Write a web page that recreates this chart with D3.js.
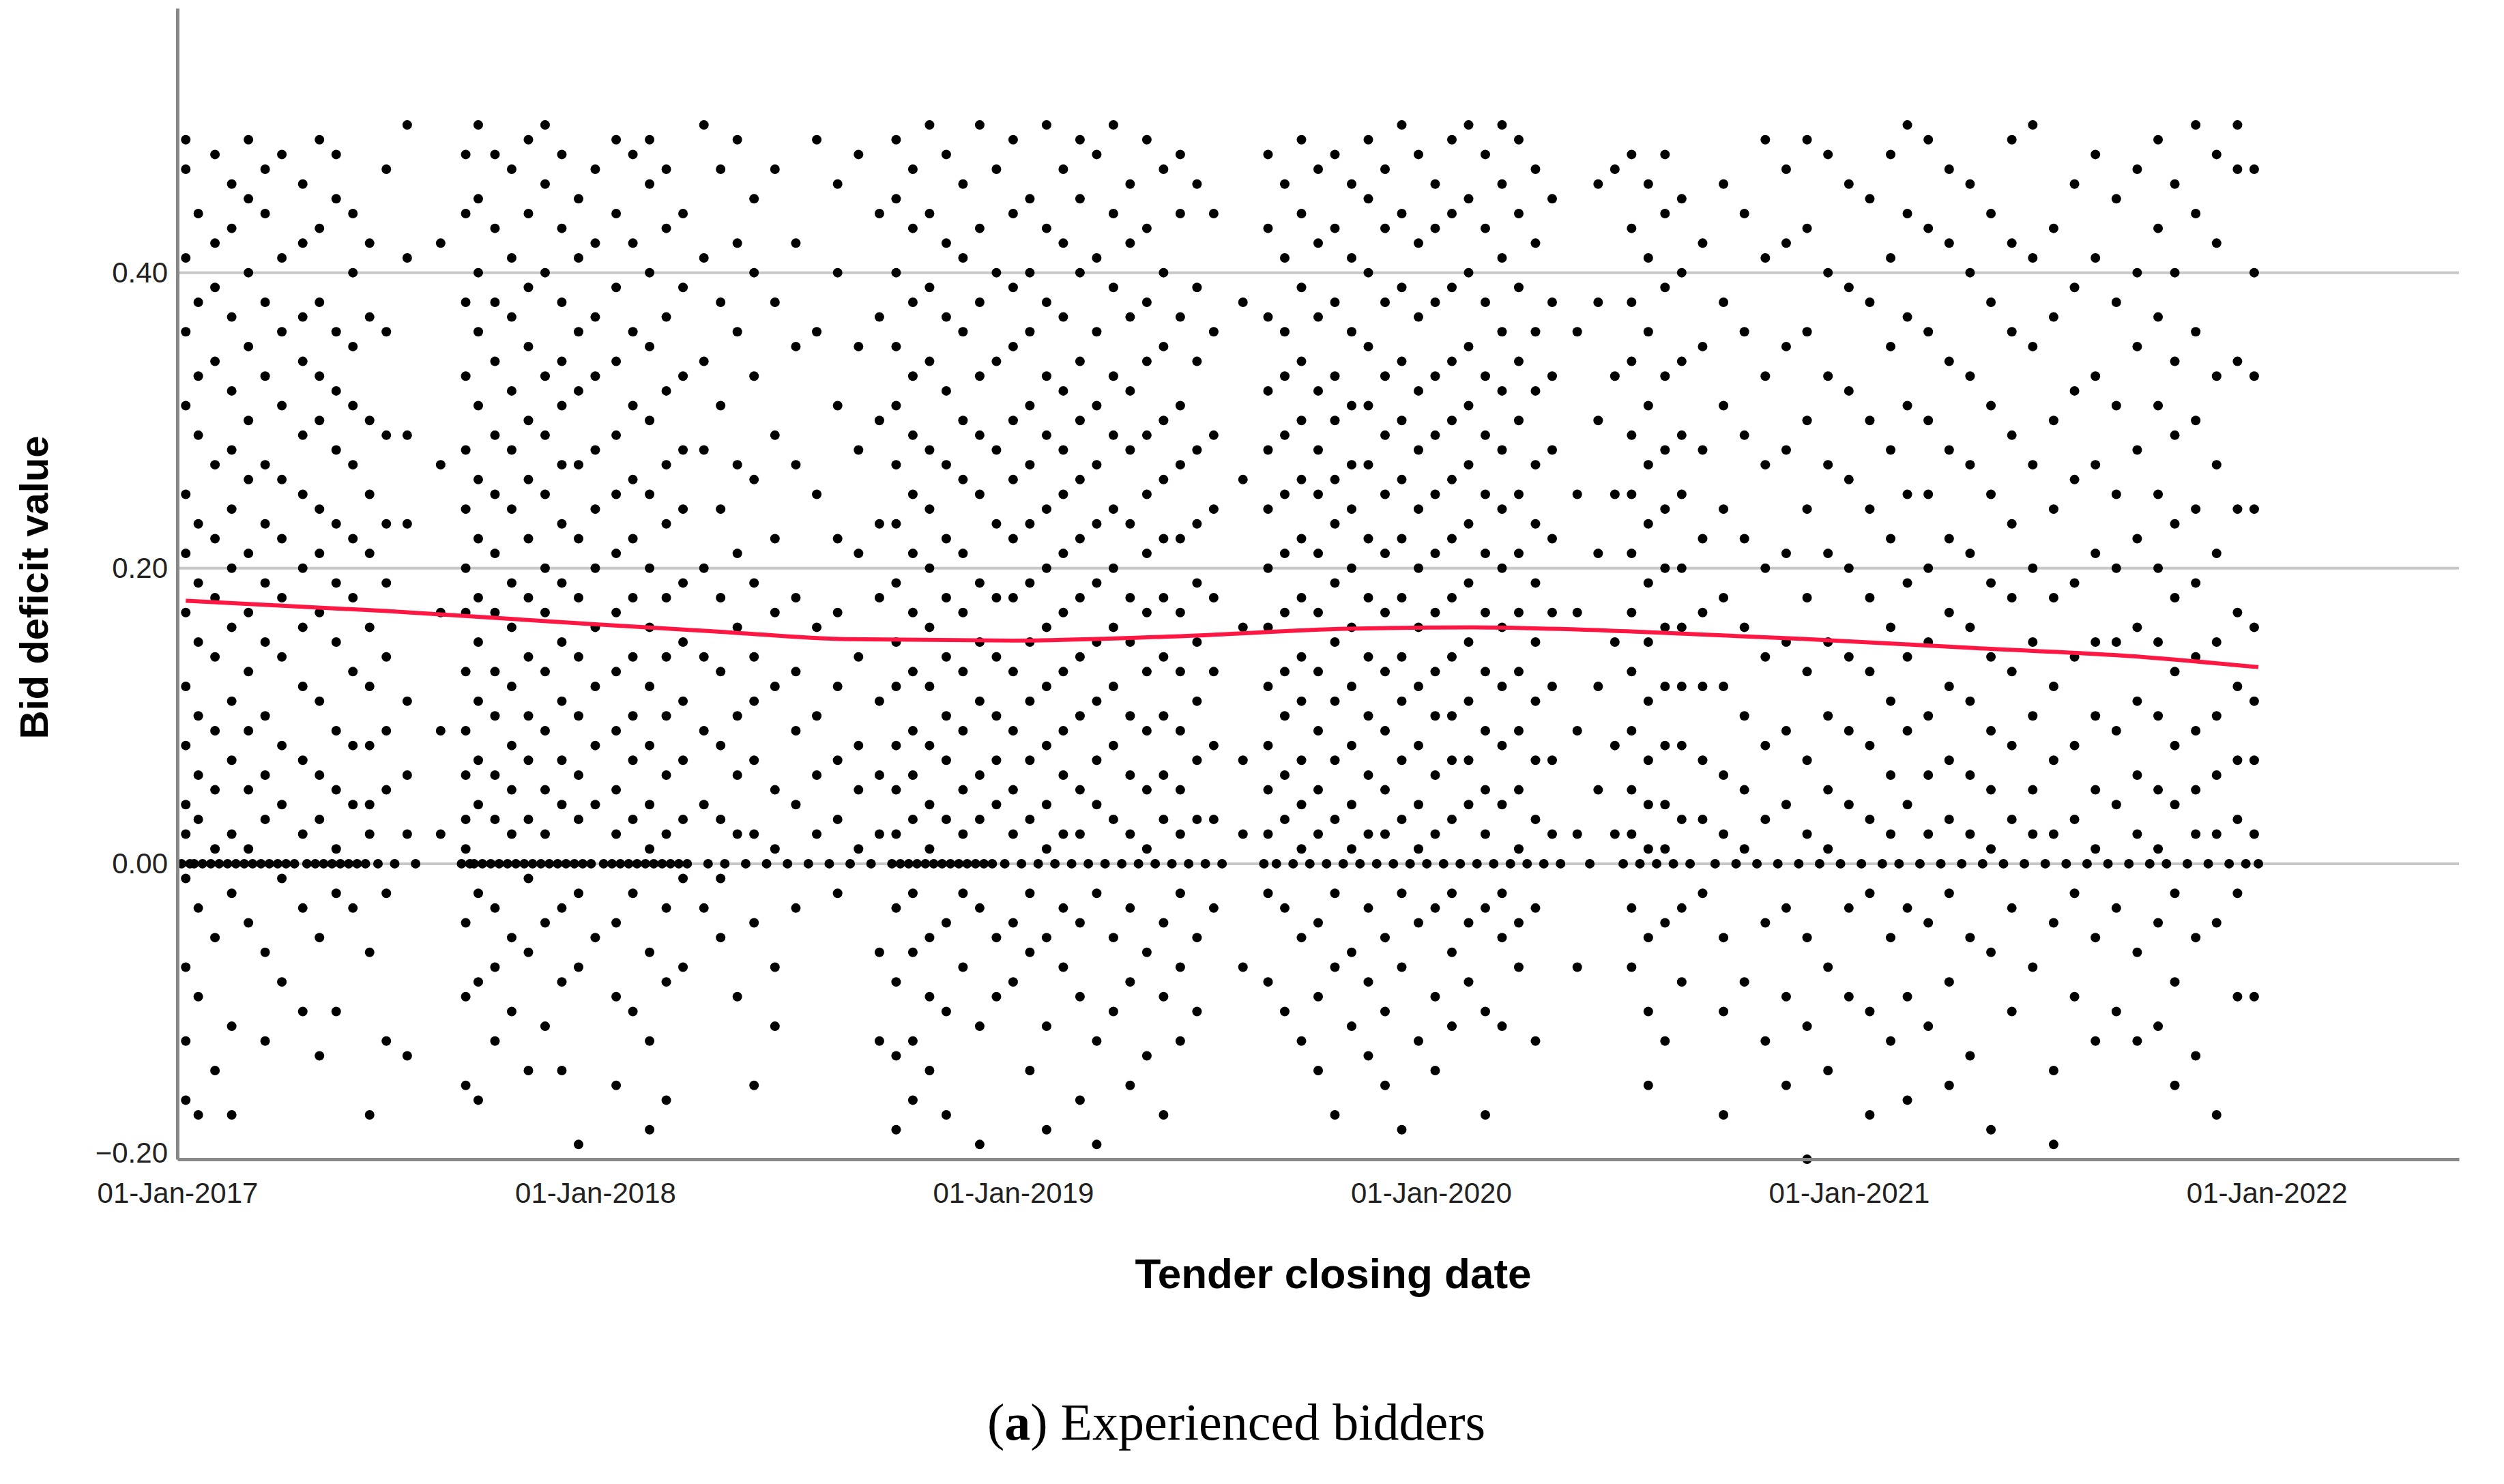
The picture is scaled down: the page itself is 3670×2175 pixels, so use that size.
<!DOCTYPE html>
<html>
<head>
<meta charset="utf-8">
<script src="https://d3js.org/d3.v7.min.js"></script>
<style>
  body { margin: 0; background: #fff; }
  text { font-family: "Liberation Sans", Arial, sans-serif; }
</style>
</head>
<body>
<script>
const width = 3670;
const height = 2175;
const margin = {left: 260, right: 66, top: 12, bottom: 476};

// tick values / labels
const yTicks = [-0.2, 0, 0.2, 0.4];
const yGrid = [0, 0.2, 0.4];
const xTicks = [2017, 2018, 2019, 2020, 2021, 2022];
const xTickLabels = ['01-Jan-2017', '01-Jan-2018', '01-Jan-2019', '01-Jan-2020', '01-Jan-2021', '01-Jan-2022'];

// scatter, one column per closing date (fractional year): [date, [bid deficit values]]
const bidColumns = [
  [2017.02, [0.49, 0.47, 0.41, 0.36, 0.31, 0.25, 0.21, 0.17, 0.12, 0.08, 0.04, 0.02, -0.01, -0.07, -0.12, -0.16]],
  [2017.05, [0.44, 0.38, 0.33, 0.29, 0.23, 0.19, 0.15, 0.10, 0.06, 0.03, -0.03, -0.09, -0.17]],
  [2017.09, [0.48, 0.42, 0.39, 0.34, 0.27, 0.22, 0.18, 0.14, 0.09, 0.05, 0.01, -0.05, -0.14]],
  [2017.13, [0.46, 0.43, 0.37, 0.32, 0.28, 0.24, 0.20, 0.16, 0.11, 0.07, 0.02, -0.02, -0.11, -0.17]],
  [2017.17, [0.49, 0.45, 0.40, 0.35, 0.30, 0.26, 0.21, 0.17, 0.13, 0.09, 0.05, 0.01, -0.04]],
  [2017.21, [0.47, 0.44, 0.38, 0.33, 0.27, 0.23, 0.19, 0.15, 0.10, 0.06, 0.03, -0.06, -0.12]],
  [2017.25, [0.48, 0.41, 0.36, 0.31, 0.26, 0.22, 0.18, 0.14, 0.08, 0.04, -0.01, -0.08]],
  [2017.30, [0.46, 0.42, 0.37, 0.34, 0.29, 0.25, 0.20, 0.16, 0.12, 0.07, 0.02, -0.03, -0.10]],
  [2017.34, [0.49, 0.43, 0.38, 0.33, 0.30, 0.24, 0.21, 0.17, 0.11, 0.06, 0.03, -0.05, -0.13]],
  [2017.38, [0.48, 0.45, 0.36, 0.32, 0.28, 0.23, 0.19, 0.15, 0.09, 0.05, 0.01, -0.02, -0.10]],
  [2017.42, [0.44, 0.40, 0.35, 0.31, 0.27, 0.22, 0.18, 0.13, 0.08, 0.04, -0.03]],
  [2017.46, [0.42, 0.37, 0.30, 0.25, 0.21, 0.16, 0.12, 0.08, 0.04, 0.02, -0.06, -0.17]],
  [2017.50, [0.47, 0.36, 0.29, 0.23, 0.19, 0.14, 0.09, 0.05, -0.02, -0.12]],
  [2017.55, [0.50, 0.41, 0.29, 0.23, 0.11, 0.06, 0.02, -0.13]],
  [2017.63, [0.42, 0.27, 0.17, 0.09, 0.02]],
  [2017.69, [0.48, 0.44, 0.38, 0.33, 0.28, 0.24, 0.20, 0.17, 0.13, 0.09, 0.06, 0.03, 0.01, -0.04, -0.09, -0.15]],
  [2017.72, [0.50, 0.45, 0.40, 0.36, 0.31, 0.26, 0.22, 0.18, 0.15, 0.11, 0.07, 0.04, -0.02, -0.08, -0.16]],
  [2017.76, [0.48, 0.43, 0.38, 0.34, 0.29, 0.25, 0.21, 0.17, 0.13, 0.10, 0.06, 0.03, -0.03, -0.07, -0.12]],
  [2017.80, [0.47, 0.41, 0.37, 0.32, 0.28, 0.24, 0.19, 0.16, 0.12, 0.08, 0.05, 0.02, -0.05, -0.10]],
  [2017.84, [0.49, 0.44, 0.39, 0.35, 0.30, 0.26, 0.22, 0.18, 0.14, 0.10, 0.07, 0.03, -0.01, -0.06, -0.14]],
  [2017.88, [0.50, 0.46, 0.40, 0.33, 0.29, 0.25, 0.20, 0.17, 0.13, 0.09, 0.05, 0.02, -0.04, -0.11]],
  [2017.92, [0.48, 0.43, 0.38, 0.34, 0.31, 0.27, 0.23, 0.19, 0.15, 0.11, 0.07, 0.04, -0.03, -0.08, -0.14]],
  [2017.96, [0.45, 0.41, 0.36, 0.32, 0.27, 0.22, 0.18, 0.14, 0.10, 0.06, 0.03, -0.02, -0.07, -0.19]],
  [2018.00, [0.47, 0.42, 0.37, 0.33, 0.28, 0.24, 0.20, 0.16, 0.12, 0.08, 0.04, -0.05]],
  [2018.05, [0.49, 0.44, 0.39, 0.34, 0.29, 0.25, 0.21, 0.17, 0.13, 0.09, 0.05, 0.02, -0.04, -0.09, -0.15]],
  [2018.09, [0.48, 0.42, 0.36, 0.31, 0.26, 0.22, 0.18, 0.14, 0.10, 0.07, 0.03, -0.02, -0.10]],
  [2018.13, [0.49, 0.46, 0.40, 0.35, 0.30, 0.25, 0.20, 0.16, 0.12, 0.08, 0.04, 0.01, -0.06, -0.12, -0.18]],
  [2018.17, [0.47, 0.43, 0.37, 0.32, 0.27, 0.23, 0.18, 0.14, 0.10, 0.06, 0.02, -0.03, -0.08, -0.16]],
  [2018.21, [0.44, 0.39, 0.33, 0.28, 0.24, 0.19, 0.15, 0.11, 0.07, 0.03, -0.01, -0.07]],
  [2018.26, [0.50, 0.41, 0.34, 0.28, 0.20, 0.14, 0.09, 0.04, -0.03]],
  [2018.30, [0.47, 0.38, 0.31, 0.24, 0.18, 0.13, 0.08, 0.03, -0.01, -0.05]],
  [2018.34, [0.49, 0.42, 0.36, 0.27, 0.21, 0.16, 0.10, 0.06, 0.02, -0.09]],
  [2018.38, [0.45, 0.40, 0.33, 0.26, 0.19, 0.14, 0.11, 0.07, 0.02, -0.04, -0.15]],
  [2018.43, [0.47, 0.38, 0.29, 0.22, 0.17, 0.12, 0.05, 0.01, -0.07, -0.11]],
  [2018.48, [0.42, 0.35, 0.27, 0.18, 0.13, 0.09, 0.04, -0.03]],
  [2018.53, [0.49, 0.36, 0.25, 0.16, 0.10, 0.06, 0.02]],
  [2018.58, [0.46, 0.40, 0.31, 0.22, 0.17, 0.12, 0.07, 0.03, -0.02]],
  [2018.63, [0.48, 0.35, 0.28, 0.21, 0.14, 0.08, 0.05, 0.01]],
  [2018.68, [0.44, 0.37, 0.30, 0.23, 0.18, 0.11, 0.06, 0.02, -0.06, -0.12]],
  [2018.72, [0.49, 0.45, 0.40, 0.35, 0.31, 0.27, 0.23, 0.19, 0.15, 0.12, 0.08, 0.05, 0.02, -0.03, -0.08, -0.13, -0.18]],
  [2018.76, [0.47, 0.43, 0.38, 0.33, 0.29, 0.25, 0.21, 0.17, 0.13, 0.09, 0.06, 0.03, -0.02, -0.06, -0.12, -0.16]],
  [2018.80, [0.50, 0.44, 0.39, 0.34, 0.28, 0.24, 0.20, 0.16, 0.12, 0.08, 0.04, 0.01, -0.05, -0.09, -0.14]],
  [2018.84, [0.48, 0.42, 0.37, 0.32, 0.27, 0.22, 0.18, 0.14, 0.10, 0.07, 0.03, -0.04, -0.10, -0.17]],
  [2018.88, [0.46, 0.41, 0.36, 0.30, 0.26, 0.21, 0.17, 0.13, 0.09, 0.05, 0.02, -0.02, -0.07]],
  [2018.92, [0.50, 0.43, 0.38, 0.33, 0.29, 0.25, 0.19, 0.15, 0.11, 0.06, 0.03, -0.03, -0.11, -0.19]],
  [2018.96, [0.47, 0.40, 0.34, 0.28, 0.23, 0.18, 0.14, 0.10, 0.07, 0.04, -0.05, -0.09]],
  [2019.00, [0.49, 0.44, 0.39, 0.35, 0.30, 0.26, 0.22, 0.18, 0.13, 0.09, 0.05, 0.02, -0.04, -0.08]],
  [2019.04, [0.45, 0.40, 0.36, 0.31, 0.27, 0.23, 0.19, 0.15, 0.11, 0.07, 0.03, -0.02, -0.06, -0.14]],
  [2019.08, [0.50, 0.43, 0.38, 0.33, 0.29, 0.24, 0.20, 0.16, 0.12, 0.08, 0.04, 0.01, -0.05, -0.11, -0.18]],
  [2019.12, [0.47, 0.42, 0.37, 0.32, 0.28, 0.25, 0.21, 0.17, 0.13, 0.09, 0.06, 0.02, -0.03, -0.07]],
  [2019.16, [0.49, 0.45, 0.40, 0.34, 0.30, 0.26, 0.22, 0.18, 0.14, 0.10, 0.05, 0.02, -0.04, -0.09, -0.16]],
  [2019.20, [0.48, 0.41, 0.36, 0.31, 0.27, 0.23, 0.19, 0.15, 0.11, 0.07, 0.04, -0.02, -0.12, -0.19]],
  [2019.24, [0.50, 0.44, 0.39, 0.33, 0.29, 0.24, 0.20, 0.16, 0.12, 0.08, 0.03, -0.05, -0.10]],
  [2019.28, [0.46, 0.42, 0.37, 0.32, 0.28, 0.23, 0.18, 0.15, 0.10, 0.06, 0.02, -0.03, -0.08, -0.15]],
  [2019.32, [0.49, 0.43, 0.38, 0.34, 0.29, 0.25, 0.21, 0.17, 0.13, 0.09, 0.05, 0.01, -0.06, -0.13]],
  [2019.36, [0.47, 0.40, 0.35, 0.30, 0.26, 0.22, 0.18, 0.14, 0.10, 0.06, 0.03, -0.04, -0.09, -0.17]],
  [2019.40, [0.48, 0.44, 0.37, 0.31, 0.27, 0.22, 0.17, 0.13, 0.09, 0.05, 0.02, -0.02, -0.07, -0.12]],
  [2019.44, [0.46, 0.39, 0.34, 0.28, 0.23, 0.19, 0.15, 0.11, 0.07, 0.03, -0.05, -0.10]],
  [2019.48, [0.44, 0.36, 0.29, 0.24, 0.18, 0.13, 0.08, 0.03, -0.03]],
  [2019.55, [0.38, 0.26, 0.16, 0.07, 0.02, -0.07]],
  [2019.61, [0.48, 0.43, 0.37, 0.32, 0.28, 0.24, 0.20, 0.16, 0.12, 0.08, 0.05, 0.02, -0.02, -0.08]],
  [2019.65, [0.46, 0.41, 0.36, 0.33, 0.29, 0.25, 0.21, 0.17, 0.13, 0.10, 0.06, 0.03, -0.03, -0.10]],
  [2019.69, [0.49, 0.44, 0.39, 0.34, 0.30, 0.26, 0.22, 0.18, 0.14, 0.11, 0.07, 0.04, 0.01, -0.05, -0.12]],
  [2019.73, [0.47, 0.42, 0.37, 0.32, 0.28, 0.25, 0.21, 0.17, 0.13, 0.09, 0.05, 0.02, -0.04, -0.09, -0.14]],
  [2019.77, [0.48, 0.43, 0.38, 0.33, 0.30, 0.26, 0.23, 0.19, 0.15, 0.11, 0.07, 0.03, -0.02, -0.07, -0.17]],
  [2019.81, [0.46, 0.41, 0.36, 0.31, 0.27, 0.24, 0.20, 0.16, 0.12, 0.08, 0.04, 0.01, -0.06, -0.11]],
  [2019.85, [0.49, 0.45, 0.40, 0.35, 0.31, 0.27, 0.22, 0.18, 0.14, 0.10, 0.06, 0.02, -0.03, -0.08, -0.13]],
  [2019.89, [0.47, 0.43, 0.38, 0.33, 0.29, 0.25, 0.21, 0.17, 0.13, 0.09, 0.05, 0.02, -0.05, -0.10, -0.15]],
  [2019.93, [0.50, 0.44, 0.39, 0.34, 0.30, 0.26, 0.22, 0.18, 0.14, 0.11, 0.07, 0.03, -0.02, -0.07, -0.18]],
  [2019.97, [0.48, 0.42, 0.37, 0.32, 0.28, 0.24, 0.20, 0.16, 0.12, 0.08, 0.04, 0.01, -0.04, -0.12]],
  [2020.01, [0.46, 0.43, 0.38, 0.33, 0.29, 0.25, 0.21, 0.17, 0.13, 0.10, 0.06, 0.02, -0.03, -0.09, -0.14]],
  [2020.05, [0.49, 0.44, 0.39, 0.34, 0.30, 0.26, 0.22, 0.18, 0.14, 0.10, 0.07, 0.03, -0.02, -0.06, -0.11]],
  [2020.09, [0.50, 0.45, 0.40, 0.35, 0.31, 0.27, 0.23, 0.19, 0.15, 0.11, 0.07, 0.04, -0.04, -0.08]],
  [2020.13, [0.48, 0.43, 0.38, 0.33, 0.29, 0.25, 0.21, 0.17, 0.13, 0.09, 0.05, 0.02, -0.03, -0.10, -0.17]],
  [2020.17, [0.50, 0.46, 0.41, 0.36, 0.32, 0.28, 0.24, 0.20, 0.16, 0.12, 0.08, 0.04, -0.02, -0.05, -0.11]],
  [2020.21, [0.49, 0.44, 0.39, 0.34, 0.30, 0.25, 0.21, 0.17, 0.13, 0.09, 0.05, 0.01, -0.04, -0.07]],
  [2020.25, [0.47, 0.42, 0.36, 0.32, 0.27, 0.23, 0.19, 0.15, 0.11, 0.07, 0.03, -0.03, -0.12]],
  [2020.29, [0.45, 0.38, 0.33, 0.28, 0.22, 0.17, 0.12, 0.07, 0.02]],
  [2020.35, [0.36, 0.25, 0.17, 0.09, 0.02, -0.07]],
  [2020.40, [0.46, 0.38, 0.30, 0.21, 0.12, 0.05]],
  [2020.44, [0.47, 0.33, 0.25, 0.15, 0.08, 0.02]],
  [2020.48, [0.48, 0.43, 0.38, 0.34, 0.29, 0.25, 0.21, 0.17, 0.13, 0.09, 0.05, 0.02, -0.03, -0.07]],
  [2020.52, [0.46, 0.41, 0.36, 0.31, 0.27, 0.23, 0.19, 0.15, 0.11, 0.07, 0.04, 0.01, -0.05, -0.10, -0.15]],
  [2020.56, [0.48, 0.44, 0.39, 0.33, 0.28, 0.24, 0.20, 0.16, 0.12, 0.08, 0.04, 0.01, -0.04, -0.12]],
  [2020.60, [0.45, 0.40, 0.34, 0.29, 0.25, 0.20, 0.16, 0.12, 0.08, 0.03, -0.03, -0.08]],
  [2020.65, [0.42, 0.35, 0.28, 0.22, 0.17, 0.12, 0.07, 0.03, -0.02]],
  [2020.70, [0.46, 0.38, 0.31, 0.24, 0.18, 0.12, 0.06, 0.02, -0.05, -0.10, -0.17]],
  [2020.75, [0.44, 0.36, 0.29, 0.22, 0.16, 0.10, 0.05, 0.01, -0.08]],
  [2020.80, [0.49, 0.41, 0.33, 0.27, 0.20, 0.14, 0.08, 0.03, -0.04, -0.12]],
  [2020.85, [0.47, 0.42, 0.35, 0.28, 0.21, 0.15, 0.09, 0.04, -0.03, -0.09, -0.15]],
  [2020.90, [0.49, 0.43, 0.36, 0.30, 0.24, 0.18, 0.13, 0.07, 0.02, -0.05, -0.11, -0.20]],
  [2020.95, [0.48, 0.40, 0.33, 0.27, 0.21, 0.15, 0.10, 0.05, 0.01, -0.07, -0.14]],
  [2021.00, [0.46, 0.39, 0.32, 0.26, 0.20, 0.14, 0.09, 0.04, -0.03, -0.09]],
  [2021.05, [0.45, 0.38, 0.30, 0.24, 0.18, 0.13, 0.08, 0.03, -0.02, -0.10, -0.17]],
  [2021.10, [0.48, 0.41, 0.35, 0.28, 0.22, 0.16, 0.11, 0.06, 0.02, -0.05, -0.12]],
  [2021.14, [0.50, 0.44, 0.37, 0.31, 0.25, 0.19, 0.14, 0.09, 0.04, -0.03, -0.09, -0.16]],
  [2021.19, [0.49, 0.43, 0.36, 0.30, 0.25, 0.20, 0.15, 0.10, 0.06, 0.02, -0.04, -0.11]],
  [2021.24, [0.47, 0.42, 0.34, 0.28, 0.22, 0.17, 0.12, 0.07, 0.03, -0.02, -0.08, -0.15]],
  [2021.29, [0.46, 0.40, 0.33, 0.27, 0.21, 0.16, 0.11, 0.06, 0.02, -0.05, -0.13]],
  [2021.34, [0.44, 0.38, 0.31, 0.25, 0.19, 0.14, 0.09, 0.05, 0.01, -0.06, -0.18]],
  [2021.39, [0.49, 0.42, 0.36, 0.29, 0.23, 0.18, 0.13, 0.08, 0.03, -0.03, -0.10]],
  [2021.44, [0.50, 0.41, 0.35, 0.27, 0.20, 0.15, 0.10, 0.05, 0.02, -0.07]],
  [2021.49, [0.43, 0.37, 0.30, 0.24, 0.18, 0.12, 0.07, 0.02, -0.04, -0.14, -0.19]],
  [2021.54, [0.46, 0.39, 0.32, 0.26, 0.19, 0.14, 0.08, 0.03, -0.02, -0.09]],
  [2021.59, [0.48, 0.41, 0.33, 0.27, 0.21, 0.15, 0.10, 0.05, 0.01, -0.05, -0.12]],
  [2021.64, [0.45, 0.38, 0.31, 0.25, 0.20, 0.15, 0.09, 0.04, -0.03, -0.10]],
  [2021.69, [0.47, 0.40, 0.35, 0.28, 0.22, 0.16, 0.11, 0.06, 0.02, -0.06, -0.12]],
  [2021.74, [0.49, 0.43, 0.37, 0.31, 0.25, 0.20, 0.15, 0.10, 0.05, 0.01, -0.04, -0.11]],
  [2021.78, [0.46, 0.40, 0.34, 0.29, 0.23, 0.18, 0.13, 0.08, 0.04, -0.02, -0.08, -0.15]],
  [2021.83, [0.50, 0.44, 0.36, 0.30, 0.24, 0.19, 0.14, 0.09, 0.05, 0.02, -0.05, -0.13]],
  [2021.88, [0.48, 0.42, 0.33, 0.27, 0.21, 0.15, 0.10, 0.06, 0.02, -0.04, -0.17]],
  [2021.93, [0.50, 0.47, 0.34, 0.24, 0.17, 0.12, 0.07, 0.03, -0.02, -0.09]],
  [2021.97, [0.47, 0.40, 0.33, 0.24, 0.16, 0.11, 0.07, 0.02, -0.09]]
];

// many bids sit exactly at zero: dates of those points
const zeroDates = [
  2017.01, 2017.03, 2017.04, 2017.06, 2017.08, 2017.10, 2017.12, 2017.14, 2017.16, 2017.18, 2017.20, 2017.22,
  2017.24, 2017.26, 2017.28, 2017.31, 2017.33, 2017.35, 2017.37, 2017.39, 2017.41, 2017.43, 2017.45, 2017.48,
  2017.52, 2017.57, 2017.68, 2017.70, 2017.71, 2017.73, 2017.75, 2017.77, 2017.79, 2017.81, 2017.83, 2017.85,
  2017.87, 2017.89, 2017.91, 2017.93, 2017.95, 2017.97, 2017.99, 2018.02, 2018.04, 2018.06, 2018.08, 2018.10,
  2018.12, 2018.14, 2018.16, 2018.18, 2018.20, 2018.22, 2018.27, 2018.31, 2018.36, 2018.41, 2018.46, 2018.51,
  2018.56, 2018.61, 2018.66, 2018.71, 2018.73, 2018.75, 2018.77, 2018.79, 2018.81, 2018.83, 2018.85, 2018.87,
  2018.89, 2018.91, 2018.93, 2018.95, 2018.98, 2019.02, 2019.06, 2019.10, 2019.14, 2019.18, 2019.22, 2019.26,
  2019.30, 2019.34, 2019.38, 2019.42, 2019.46, 2019.50, 2019.60, 2019.63, 2019.67, 2019.71, 2019.75, 2019.79,
  2019.83, 2019.87, 2019.91, 2019.95, 2019.99, 2020.03, 2020.07, 2020.11, 2020.15, 2020.19, 2020.23, 2020.27,
  2020.31, 2020.38, 2020.46, 2020.50, 2020.54, 2020.58, 2020.62, 2020.68, 2020.73, 2020.78, 2020.83, 2020.88,
  2020.93, 2020.98, 2021.03, 2021.08, 2021.12, 2021.17, 2021.22, 2021.27, 2021.32, 2021.37, 2021.42, 2021.47,
  2021.52, 2021.57, 2021.62, 2021.67, 2021.72, 2021.76, 2021.81, 2021.86, 2021.91, 2021.95, 2021.98
];

// loess fit line
const fitDates = [2017.02, 2017.5, 2018.0, 2018.3, 2018.6, 2019.0, 2019.4, 2019.8, 2020.1, 2020.5, 2020.9, 2021.3, 2021.7, 2021.98];
const fitValues = [0.178, 0.171, 0.162, 0.157, 0.152, 0.151, 0.154, 0.159, 0.160, 0.157, 0.152, 0.146, 0.140, 0.133];

const svg = d3.select('body')
  .append('svg')
  .attr('width', width)
  .attr('height', height);

const plotW = width - margin.left - margin.right;
const plotH = height - margin.top - margin.bottom;

const g = svg.append('g')
  .attr('transform', `translate(${margin.left}, ${margin.top})`);

const xScale = d3.scaleLinear()
  .domain([2017, 2022.46])
  .range([0, plotW]);

const yScale = d3.scaleLinear()
  .domain([-0.2, 0.579])
  .range([plotH, 0]);

// gridlines
g.selectAll('.grid')
  .data(yGrid)
  .enter()
  .append('line')
  .attr('x1', 0)
  .attr('x2', plotW)
  .attr('y1', d => yScale(d))
  .attr('y2', d => yScale(d))
  .attr('stroke', '#c8c8c8')
  .attr('stroke-width', 4);

// points
const points = [];
bidColumns.forEach(col => {
  col[1].forEach(v => points.push([col[0], v]));
});
zeroDates.forEach(d => points.push([d, 0]));

g.selectAll('circle')
  .data(points)
  .enter()
  .append('circle')
  .attr('cx', d => xScale(d[0]))
  .attr('cy', d => yScale(d[1]))
  .attr('r', 7)
  .attr('fill', '#000');

// fit line
const line = d3.line()
  .x((d, i) => xScale(fitDates[i]))
  .y(d => yScale(d))
  .curve(d3.curveMonotoneX);

g.append('path')
  .datum(fitValues)
  .attr('d', line)
  .attr('fill', 'none')
  .attr('stroke', '#ff1744')
  .attr('stroke-width', 6);

// axes
const yAxis = d3.axisLeft(yScale)
  .tickValues(yTicks)
  .tickFormat(d3.format('.2f'))
  .tickSize(0)
  .tickPadding(14);

const yGroup = g.append('g').call(yAxis);

const xAxis = d3.axisBottom(xScale)
  .tickValues(xTicks)
  .tickFormat((d, i) => xTickLabels[i])
  .tickSize(0)
  .tickPadding(34);

const xGroup = g.append('g')
  .attr('transform', `translate(0, ${plotH})`)
  .call(xAxis);

[yGroup, xGroup].forEach(ax => {
  ax.select('.domain').attr('stroke', '#888').attr('stroke-width', 5);
  ax.selectAll('text')
    .attr('font-size', 42)
    .attr('fill', '#222')
    .style('font-family', '"Liberation Sans", Arial, sans-serif');
});
yGroup.selectAll('.tick text').attr('dy', '0.32em');
yGroup.selectAll('.tick').filter(d => d === -0.2).select('text').attr('dy', '0.1em');

// axis titles
svg.append('text')
  .attr('transform', `translate(70, ${margin.top + yScale(0.2) + 28}) rotate(-90)`)
  .attr('text-anchor', 'middle')
  .attr('font-size', 58)
  .attr('font-weight', 'bold')
  .text('Bid deficit value');

svg.append('text')
  .attr('x', 1954)
  .attr('y', 1888)
  .attr('text-anchor', 'middle')
  .attr('font-size', 62)
  .attr('font-weight', 'bold')
  .text('Tender closing date');

// caption
const caption = svg.append('text')
  .attr('x', 1812)
  .attr('y', 2110)
  .attr('text-anchor', 'middle')
  .attr('font-size', 76)
  .style('font-family', '"Liberation Serif", "DejaVu Serif", serif');
caption.append('tspan').text('(');
caption.append('tspan').attr('font-weight', 'bold').text('a');
caption.append('tspan').text(') Experienced bidders');
</script>
</body>
</html>
